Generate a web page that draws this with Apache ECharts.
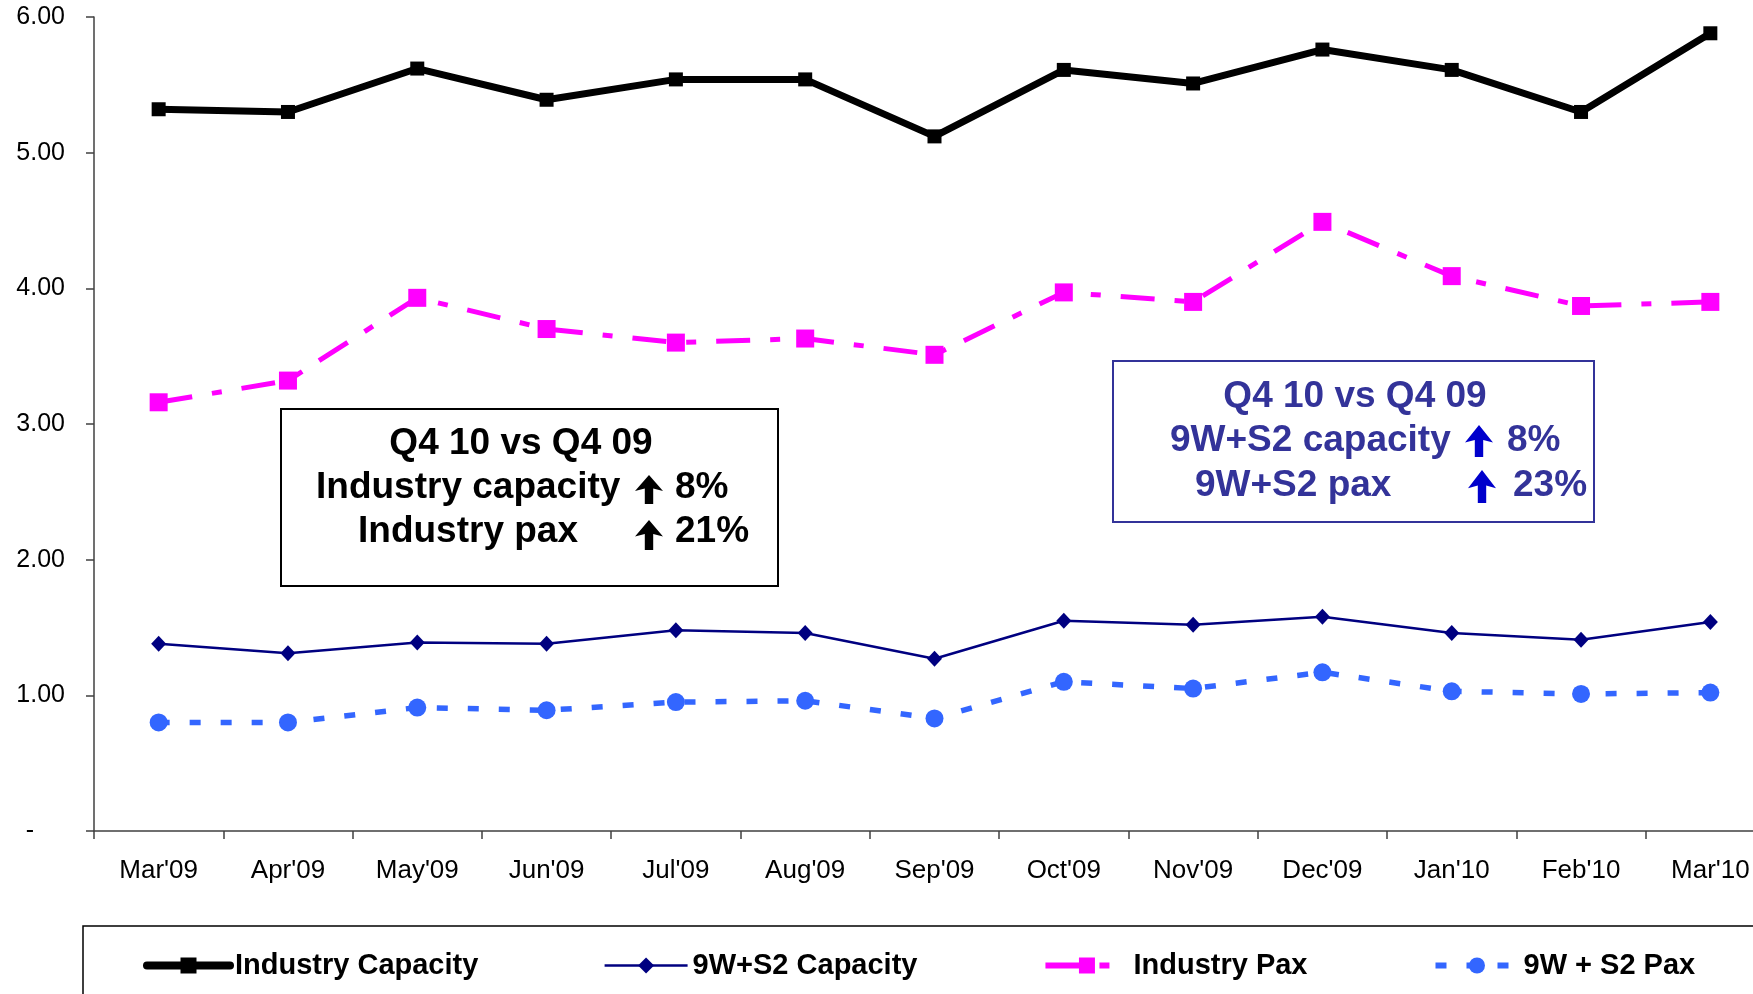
<!DOCTYPE html>
<html>
<head>
<meta charset="utf-8">
<title>Industry capacity and pax</title>
<script src="https://cdn.jsdelivr.net/npm/echarts@6/dist/echarts.min.js"></script>
<style>
  html, body { margin: 0; padding: 0; background: #fff; }
  #chart { width: 1753px; height: 994px; }
</style>
</head>
<body>
<div id="chart"></div>
<script>
// data
var categories = ["Mar'09", "Apr'09", "May'09", "Jun'09", "Jul'09", "Aug'09", "Sep'09",
                  "Oct'09", "Nov'09", "Dec'09", "Jan'10", "Feb'10", "Mar'10"];
var industryCapacity = [5.32, 5.30, 5.62, 5.39, 5.54, 5.54, 5.12, 5.61, 5.51, 5.76, 5.61, 5.30, 5.88];
var s2Capacity = [1.38, 1.31, 1.39, 1.38, 1.48, 1.46, 1.27, 1.55, 1.52, 1.58, 1.46, 1.41, 1.54];
var industryPax = [3.16, 3.32, 3.93, 3.70, 3.60, 3.63, 3.51, 3.97, 3.90, 4.49, 4.09, 3.87, 3.90];
var s2Pax = [0.80, 0.80, 0.91, 0.89, 0.95, 0.96, 0.83, 1.10, 1.05, 1.17, 1.03, 1.01, 1.02];
var seriesNames = ['Industry Capacity', '9W+S2 Capacity', 'Industry Pax', '9W + S2 Pax'];

var FONT = '"Liberation Sans", Arial, sans-serif';

// up arrow drawn as a polygon (cx = centre, top, w = head width, h = total height)
function arrow(cx, top, w, h, color) {
    var hh = h * 0.55, s = w * 0.3;
    return {
        type: 'polygon',
        shape: {
            points: [
                [cx, top], [cx + w / 2, top + hh], [cx + s / 2, top + hh * 0.85],
                [cx + s / 2, top + h], [cx - s / 2, top + h], [cx - s / 2, top + hh * 0.85],
                [cx - w / 2, top + hh]
            ]
        },
        style: { fill: color },
        z: 10
    };
}
function txt(x, y, text, color, align) {
    return {
        type: 'text',
        x: x, y: y,
        style: {
            text: text,
            fill: color,
            font: 'bold 37px ' + FONT,
            textAlign: align || 'left',
            textVerticalAlign: 'middle'
        },
        z: 10
    };
}

var myChart = echarts.init(document.getElementById('chart'));
var option = {
    animation: false,
    backgroundColor: '#fff',
    grid: {
        left: 94,
        top: 17,
        width: 1681,
        bottom: 163,
        containLabel: false,
        outerBoundsMode: 'none'
    },
    legend: {
        left: 143,
        top: 951,
        padding: 0,
        itemWidth: 83,
        itemHeight: 20,
        itemGap: 125,
        textStyle: { color: '#000', fontSize: 29, fontWeight: 'bold', fontFamily: FONT },
        data: [
            { name: seriesNames[0], lineStyle: { width: 8, cap: 'round' } },
            { name: seriesNames[1], lineStyle: { width: 2.5 } },
            { name: seriesNames[2], lineStyle: { width: 6 } },
            { name: seriesNames[3], lineStyle: { width: 6 } }
        ]
    },
    xAxis: {
        type: 'category',
        data: categories,
        boundaryGap: true,
        axisLine: { lineStyle: { color: '#404040', width: 1.5 } },
        axisTick: { show: true, length: 8, lineStyle: { color: '#404040', width: 1.5 } },
        axisLabel: {
            margin: 27,
            color: '#000',
            fontSize: 26,
            fontFamily: FONT,
            interval: 0
        },
        splitLine: { show: false }
    },
    yAxis: {
        type: 'value',
        min: 0,
        max: 6,
        interval: 1,
        axisLine: { show: true, lineStyle: { color: '#404040', width: 1.5 } },
        axisTick: { show: true, length: 8, lineStyle: { color: '#404040', width: 1.5 } },
        splitLine: { show: false },
        axisLabel: {
            margin: 29,
            color: '#000',
            fontSize: 25,
            fontFamily: FONT,
            formatter: function (v) {
                return v === 0 ? '{z|-}' : v.toFixed(2);
            },
            rich: {
                z: { fontSize: 25, fontFamily: FONT, color: '#000', padding: [0, 31, 0, 0] }
            }
        }
    },
    series: [{
        name: seriesNames[0],
        type: 'line',
        data: industryCapacity,
        symbol: 'rect',
        symbolSize: 14,
        lineStyle: { color: '#000', width: 7 },
        itemStyle: { color: '#000' },
        z: 3
    }, {
        name: seriesNames[1],
        type: 'line',
        data: s2Capacity,
        symbol: 'diamond',
        symbolSize: [15, 16],
        lineStyle: { color: '#000080', width: 2.5 },
        itemStyle: { color: '#000080' },
        z: 3
    }, {
        name: seriesNames[2],
        type: 'line',
        data: industryPax,
        symbol: 'rect',
        symbolSize: 18,
        lineStyle: { color: '#ff00ff', width: 5, type: [34, 20, 10, 20] },
        itemStyle: { color: '#ff00ff' },
        z: 3
    }, {
        name: seriesNames[3],
        type: 'line',
        data: s2Pax,
        symbol: 'circle',
        symbolSize: 18,
        lineStyle: { color: '#3366ff', width: 5.5, type: [11, 20] },
        itemStyle: { color: '#3366ff' },
        z: 3
    }],
    graphic: [
        // legend frame
        {
            type: 'rect',
            shape: { x: 83, y: 926, width: 1700, height: 100 },
            style: { fill: 'none', stroke: '#000', lineWidth: 1.5 },
            z: 1
        },
        // left annotation box
        {
            type: 'rect',
            shape: { x: 281, y: 409, width: 497, height: 177 },
            style: { fill: '#fff', stroke: '#000', lineWidth: 2 },
            z: 9
        },
        txt(521, 444, 'Q4 10 vs Q4 09', '#000', 'center'),
        txt(316, 488, 'Industry capacity', '#000'),
        arrow(649, 475, 28, 29, '#000'),
        txt(675, 488, '8%', '#000'),
        txt(358, 532, 'Industry pax', '#000'),
        arrow(649, 520, 28, 30, '#000'),
        txt(675, 532, '21%', '#000'),
        // right annotation box
        {
            type: 'rect',
            shape: { x: 1113, y: 361, width: 481, height: 161 },
            style: { fill: '#fff', stroke: '#333399', lineWidth: 2 },
            z: 9
        },
        txt(1355, 397, 'Q4 10 vs Q4 09', '#333399', 'center'),
        txt(1170, 441, '9W+S2 capacity', '#333399'),
        arrow(1479, 425, 28, 32, '#0000cc'),
        txt(1507, 441, '8%', '#333399'),
        txt(1195, 486, '9W+S2 pax', '#333399'),
        arrow(1482, 470, 28, 33, '#0000cc'),
        txt(1513, 486, '23%', '#333399')
    ]
};
myChart.setOption(option);
</script>
</body>
</html>
